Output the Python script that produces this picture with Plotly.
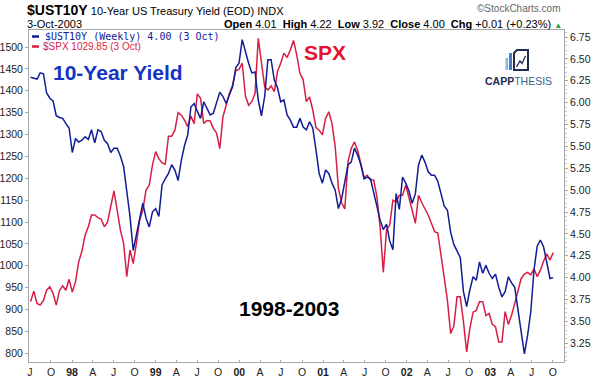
import plotly.graph_objects as go
import pandas as pd

# ---- data (bi-weekly readings) ----
dates = pd.date_range("1997-07-04", "2003-10-03", freq="14D")

ust10y = [
    6.29, 6.28, 6.27, 6.34, 6.33, 6.11, 6.05, 6.02, 5.85, 5.83,
    5.82, 5.76, 5.71, 5.43, 5.59, 5.55, 5.57, 5.61, 5.58, 5.69,
    5.54, 5.69, 5.67, 5.57, 5.53, 5.43, 5.48, 5.48, 5.39, 5.27,
    4.98, 4.70, 4.31, 4.49, 4.70, 4.85, 4.68, 4.58, 4.75, 4.79,
    4.70, 5.06, 5.13, 5.19, 5.29, 5.23, 5.11, 5.34, 5.51, 5.63,
    5.95, 5.99, 5.90, 5.82, 6.01, 5.93, 5.86, 5.88, 5.99, 6.12,
    6.07, 5.99, 6.09, 6.18, 6.40, 6.45, 6.72, 6.58, 6.45, 6.34,
    6.35, 6.03, 5.85, 6.07, 6.49, 6.49, 6.26, 6.17, 6.01, 6.03,
    5.86, 5.80, 5.72, 5.72, 5.82, 5.72, 5.69, 5.78, 5.71, 5.46,
    5.19, 5.08, 5.23, 5.19, 5.08, 5.00, 4.79, 4.90, 5.08, 5.29,
    5.32, 5.48, 5.40, 5.29, 5.13, 5.15, 5.13, 4.96, 4.83, 4.66,
    4.55, 4.61, 4.42, 4.32, 4.96, 4.78, 5.15, 5.08, 4.99, 4.85,
    4.96, 5.29, 5.40, 5.32, 5.21, 5.17, 5.17, 5.10, 4.96, 4.82,
    4.77, 4.52, 4.38, 4.31, 4.23, 3.84, 3.67, 3.86, 4.01, 3.97,
    4.18, 4.05, 4.14, 4.05, 3.99, 4.04, 3.89, 3.78, 3.84, 4.01,
    3.94, 3.89, 3.61, 3.38, 3.13, 3.34, 3.61, 4.09, 4.36, 4.43,
    4.35, 4.16, 3.99, 4.00,
]

spx = [
    918, 942, 914, 910, 921, 944, 952, 937, 910, 943,
    954, 944, 969, 940, 963, 1009, 1033, 1070, 1089, 1116,
    1116, 1110, 1107, 1089, 1100, 1135, 1171, 1127, 1082, 1051,
    975, 1036, 1005, 1051, 1104, 1127, 1173, 1184, 1230, 1261,
    1245, 1235, 1232, 1296, 1296, 1310, 1350, 1344, 1333, 1318,
    1342, 1325, 1393, 1383, 1325, 1332, 1331, 1314, 1303, 1268,
    1341, 1367, 1394, 1413, 1446, 1449, 1463, 1388, 1367, 1375,
    1394, 1520, 1470, 1409, 1402, 1411, 1398, 1444, 1463, 1486,
    1476, 1493, 1515, 1482, 1440, 1425, 1375, 1386, 1356, 1316,
    1310, 1299, 1337, 1352, 1325, 1272, 1177, 1144, 1130, 1238,
    1268, 1283, 1264, 1230, 1202, 1207, 1196, 1196, 1158, 1089,
    985, 1082, 1093, 1150, 1146, 1161, 1161, 1184, 1152, 1127,
    1097, 1161, 1144, 1131, 1116, 1097, 1078, 1075, 1024, 975,
    921, 845, 862, 929, 929, 872, 803, 857, 894, 898,
    918, 918, 886, 891, 866, 860, 826, 826, 895, 866,
    887, 914, 944, 971, 981, 985, 979, 993, 975, 990,
    1011, 1027, 1013, 1030,
]

tick_dates = pd.date_range("1997-07-01", "2003-10-01", freq="QS-JAN")
month_letter = {1: None, 4: "A", 7: "J", 10: "O"}
tick_text = [("<b>%02d</b>" % (d.year % 100)) if d.month == 1 else month_letter[d.month]
             for d in tick_dates]

spx_ticks = list(range(800, 1501, 50))

BLUE = "#121c94"
RED = "#d61f45"
AXIS = "#a8a8a8"
FONT = "Liberation Sans, Arial, sans-serif"

# plot area in pixels: x 29..564, y 30..362
L, R, T, B = 29, 564, 30, 362


def px(x):
    return (x - L) / (R - L)


def py(y):
    return (B - y) / (B - T)


fig = go.Figure()
fig.add_trace(go.Scatter(x=dates, y=spx, mode="lines", name="$SPX",
                         line=dict(color=RED, width=1.5), yaxis="y"))
fig.add_trace(go.Scatter(x=dates, y=ust10y, mode="lines", name="$UST10Y",
                         line=dict(color=BLUE, width=1.5), yaxis="y2"))

fig.update_layout(
    width=594, height=380,
    margin=dict(l=L, r=594 - R, t=T, b=380 - B),
    paper_bgcolor="white", plot_bgcolor="white",
    showlegend=False,
    font=dict(family=FONT, size=10.5, color="#222"),
    xaxis=dict(
        type="date", range=["1997-06-27", "2003-11-19"],
        tickvals=tick_dates, ticktext=tick_text,
        showgrid=False, zeroline=False, automargin=False,
        showline=True, linecolor=AXIS, linewidth=1, mirror=True,
        ticks="inside", ticklen=2, tickcolor=AXIS,
        tickfont=dict(size=10.5, color="#222"),
    ),
    yaxis=dict(
        range=[780.0, 1538.9], tickvals=spx_ticks,
        showgrid=False, zeroline=False, automargin=False,
        showline=True, linecolor=AXIS, linewidth=1,
        ticks="outside", ticklen=3, tickcolor=AXIS,
        tickfont=dict(size=10.5, color="#222"),
    ),
    yaxis2=dict(
        range=[3.036, 6.830], overlaying="y", side="right",
        tick0=0, dtick=0.25, tickformat=".2f", automargin=False,
        showgrid=False, zeroline=False,
        showline=True, linecolor=AXIS, linewidth=1,
        ticks="outside", ticklen=3, tickcolor=AXIS,
        minor=dict(ticks="outside", ticklen=2, dtick=0.05, tickcolor="#c8c8c8"),
        tickfont=dict(size=10.5, color="#222"),
    ),
)

ann = []


def text(x, y, s, size, color="#000", anchor="left", family=FONT):
    ann.append(dict(x=px(x), y=py(y), xref="paper", yref="paper", text=s,
                    showarrow=False, xanchor=anchor, yanchor="middle",
                    font=dict(size=size, color=color, family=family)))


# header
text(25, 10, "<b><span style='font-size:14px'>$UST10Y</span></b> 10-Year US Treasury Yield (EOD) INDX", 11)
text(25, 24, "3-Oct-2003", 11)
text(563, 8, "©StockCharts.com", 10, color="#666", anchor="right")
text(564, 24,
     "<b>Open</b> 4.01&nbsp;&nbsp;<b>High</b> 4.22&nbsp;&nbsp;<b>Low</b> 3.92&nbsp;&nbsp;"
     "<b>Close</b> 4.00&nbsp;&nbsp;<b>Chg</b> +0.01 (+0.23%) "
     "<span style='color:#2f9e3a;font-size:8px'>▲</span>", 11, anchor="right")

# in-plot legend
text(43, 36.5, "$UST10Y (Weekly) 4.00 (3 Oct)", 10, color=BLUE, family="DejaVu Sans Mono, monospace")
text(41, 46.5, "$SPX 1029.85 (3 Oct)", 10, color=RED)

# big labels
text(51, 72, "<b>10-Year Yield</b>", 21, color="#1634c4")
text(302, 52, "<b>SPX</b>", 21, color="#e5142c")
text(237, 308, "<b>1998-2003</b>", 21, color="#000")

# logo text
text(483, 80.5, "<b>CAPP</b><span style='color:#3c5f8c'>THESIS</span>", 10.5, color="#1f2c52")

fig.update_layout(annotations=ann)

shapes = []


def pshape(**kw):
    kw.setdefault("xref", "paper")
    kw.setdefault("yref", "paper")
    shapes.append(kw)


# legend dashes
pshape(type="line", x0=px(32), x1=px(39), y0=py(36.5), y1=py(36.5), line=dict(color=BLUE, width=2.5))
pshape(type="line", x0=px(32), x1=px(39), y0=py(46.5), y1=py(46.5), line=dict(color=RED, width=2.5))

# logo icon
pshape(type="rect", x0=px(505.5), x1=px(508), y0=py(70), y1=py(58), line=dict(width=0), fillcolor="#8fb8e3")
pshape(type="rect", x0=px(509), x1=px(512), y0=py(70), y1=py(53), line=dict(width=0), fillcolor="#3f7fcc")
pshape(type="path",
       path="M %f %f L %f %f L %f %f L %f %f L %f %f Z" % (
           px(514), py(70), px(514), py(53), px(517), py(50), px(528), py(50), px(528), py(70)),
       line=dict(color="#1f2c52", width=2), fillcolor="rgba(0,0,0,0)")
pshape(type="path",
       path="M %f %f L %f %f L %f %f L %f %f" % (
           px(516.5), py(67), px(520), py(61), px(522), py(63.5), px(525.5), py(56)),
       line=dict(color="#1f2c52", width=1.3))

fig.update_layout(shapes=shapes)

fig.write_html("out.html",
               config={"displayModeBar": False},
               post_script="document.body.style.margin='0';document.body.style.overflow='hidden';")
